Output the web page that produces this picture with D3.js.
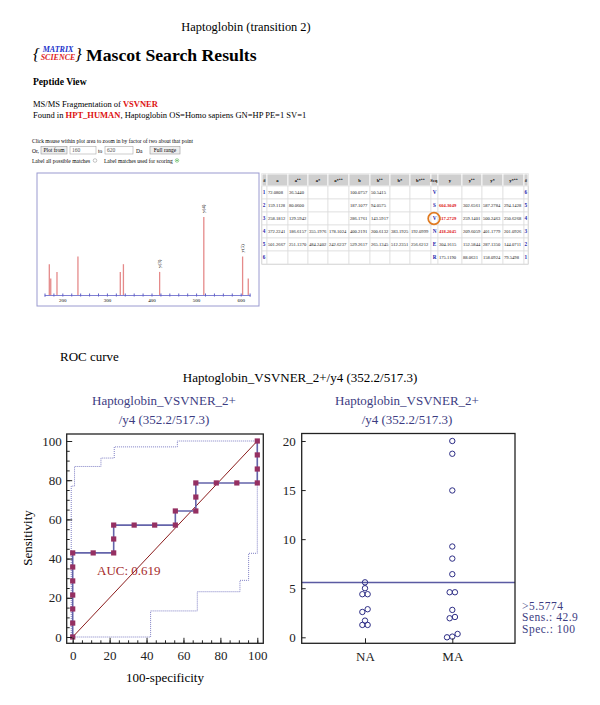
<!DOCTYPE html>
<head>
<meta charset="utf-8">
<title>Haptoglobin (transition 2)</title>
<style>
  body { margin: 0; background: #fff; }
  text { font-family: "Liberation Serif", "Times New Roman", serif; }
</style>
</head>
<body>
<script src="https://d3js.org/d3.v7.min.js"></script>
<script>

// ---- spectrum (m/z, relative intensity) ----
var specMz = [170.8, 174, 188, 235, 330, 337, 418.2, 517.3, 604.3, 617];
var specInt = [28, 15, 21, 35, 21, 28, 21, 71, 35, 15];
var specLabelMz = [418.2, 517.3, 604.3];
var specLabels = ["y(3)", "y(4)", "y(5)"];
var specTicks = [200, 300, 400, 500, 600];

// ---- fragment table ----
var tableHead = ["#", "a", "a⁺⁺", "a*", "a*⁺⁺", "b", "b⁺⁺", "b*", "b*⁺⁺", "Seq.", "y", "y⁺⁺", "y*", "y*⁺⁺", "#"];
var tableRows = [
  ["1", "72.0808", "36.5440", "", "", "100.0757", "50.5415", "", "", "V", "", "", "", "", "6"],
  ["2", "159.1128", "80.0600", "", "", "187.1077", "94.0575", "", "", "S", "604.3049", "302.6561", "587.2784", "294.1428", "5"],
  ["3", "258.1812", "129.5942", "", "", "286.1761", "143.5917", "", "", "V", "517.2729", "259.1401", "500.2463", "250.6268", "4"],
  ["4", "372.2241", "186.6157", "355.1976", "178.1024", "400.2191", "200.6132", "383.1925", "192.0999", "N", "418.2045", "209.6059", "401.1779", "201.0926", "3"],
  ["5", "501.2667", "251.1370", "484.2402", "242.6237", "529.2617", "265.1345", "512.2351", "256.6212", "E", "304.1615", "152.5844", "287.1350", "144.0711", "2"],
  ["6", "", "", "", "", "", "", "", "", "R", "175.1190", "88.0631", "158.0924", "79.5498", "1"]
];
var matchedY = ["604.3049", "517.2729", "418.2045"];
var circledRow = 2;

// ---- ROC curve ----
var rocX = [0, 0, 0, 0, 0, 0, 0, 11.1, 22.2, 22.2, 22.2, 33.3, 44.4, 55.6, 55.6, 66.7, 66.7, 66.7, 77.8, 88.9, 100, 100, 100, 100];
var rocY = [0, 7.1, 14.3, 21.4, 28.6, 35.7, 42.9, 42.9, 42.9, 50, 57.1, 57.1, 57.1, 57.1, 64.3, 64.3, 71.4, 78.6, 78.6, 78.6, 78.6, 85.7, 92.9, 100];
var upperX = [-0.8, -0.8, 1, 1, 15.3, 15.3, 22.5, 22.5, 56.7, 56.7, 100];
var upperY = [0, 77, 77, 87, 87, 91.3, 91.3, 97, 97, 100, 100];
var lowerX = [0, 42.2, 42.2, 67.5, 67.5, 90.6, 90.6, 95.3, 95.3, 100, 100];
var lowerY = [0, 0, 13.3, 13.3, 23.1, 23.1, 28.9, 28.9, 42.7, 42.7, 100];
var auc = "0.619";
var rocTicks = [0, 20, 40, 60, 80, 100];

// ---- dot plot ----
var groups = ["NA", "MA"];
var naValues = [5.6, 5.0, 4.39, 4.39, 2.86, 2.58, 1.7, 1.26, 1.26];
var maValues = [20.0, 18.7, 14.96, 9.25, 8.02, 6.43, 4.59, 4.59, 2.79, 2.07, 1.94, 0.34, 0.07, 0.0];
var cutoff = 5.5774;
var cutoffText = [">5.5774", "Sens.: 42.9", "Spec.: 100"];
var dotTicks = [0, 5, 10, 15, 20];

var titleBlue = "#3c3c82";

var svg = d3.select("body").append("svg")
    .attr("width", 600)
    .attr("height", 705)
    .style("display", "block");

svg.append("rect").attr("width", 600).attr("height", 705).attr("fill", "#fff");

svg.append("text")
    .attr("x", 246).attr("y", 31)
    .attr("text-anchor", "middle")
    .attr("font-size", "12.4px")
    .text("Haptoglobin (transition 2)");

// ===== Mascot header =====
var logo = svg.append("g");
logo.append("text").attr("x", 33).attr("y", 60).attr("font-size", "17px")
    .attr("font-style", "italic").text("{");
logo.append("text").attr("x", 75).attr("y", 60).attr("font-size", "17px")
    .attr("font-style", "italic").text("}");
logo.append("text").attr("x", 58).attr("y", 51.5).attr("text-anchor", "middle")
    .attr("font-size", "8px").attr("font-weight", "bold").attr("font-style", "italic")
    .attr("fill", "#2233cc").text("MATRIX");
logo.append("text").attr("x", 58).attr("y", 59.5).attr("text-anchor", "middle")
    .attr("font-size", "8px").attr("font-weight", "bold").attr("font-style", "italic")
    .attr("fill", "#dd2222").text("SCIENCE");

svg.append("text")
    .attr("x", 86).attr("y", 61)
    .attr("font-size", "17.7px").attr("font-weight", "bold")
    .text("Mascot Search Results");

svg.append("text").attr("x", 33).attr("y", 85)
    .attr("font-size", "9.6px").attr("font-weight", "bold").text("Peptide View");

var l1 = svg.append("text").attr("x", 33).attr("y", 107).attr("font-size", "8.5px");
l1.append("tspan").text("MS/MS Fragmentation of ");
l1.append("tspan").attr("fill", "#dd1111").attr("font-weight", "bold").text("VSVNER");

var l2 = svg.append("text").attr("x", 33).attr("y", 117.5).attr("font-size", "8.5px");
l2.append("tspan").text("Found in ");
l2.append("tspan").attr("fill", "#dd1111").attr("font-weight", "bold").text("HPT_HUMAN");
l2.append("tspan").text(", Haptoglobin OS=Homo sapiens GN=HP PE=1 SV=1");

svg.append("text").attr("x", 32).attr("y", 143).attr("font-size", "5.5px")
    .text("Click mouse within plot area to zoom in by factor of two about that point");

var form = svg.append("g").attr("font-size", "5.5px");
form.append("text").attr("x", 32).attr("y", 152.5).text("Or,");
function button(x, w, label) {
  form.append("rect").attr("x", x).attr("y", 146.5).attr("width", w).attr("height", 7.5)
      .attr("fill", "#eee").attr("stroke", "#999").attr("stroke-width", 0.6);
  form.append("text").attr("x", x + w / 2).attr("y", 152).attr("text-anchor", "middle").text(label);
}
function input(x, w, val) {
  form.append("rect").attr("x", x).attr("y", 146.5).attr("width", w).attr("height", 7.5)
      .attr("fill", "#fff").attr("stroke", "#aaa").attr("stroke-width", 0.6);
  form.append("text").attr("x", x + 2).attr("y", 152).attr("fill", "#555").text(val);
}
button(41, 26, "Plot from");
input(70, 26, "160");
form.append("text").attr("x", 98).attr("y", 152.5).text("to");
input(105, 28, "620");
form.append("text").attr("x", 136).attr("y", 152.5).text("Da");
button(150, 30, "Full range");
form.append("text").attr("x", 32).attr("y", 162.5).text("Label all possible matches");
form.append("circle").attr("cx", 95).attr("cy", 160.5).attr("r", 1.8)
    .attr("fill", "#fff").attr("stroke", "#888").attr("stroke-width", 0.5);
form.append("text").attr("x", 104).attr("y", 162.5).text("Label matches used for scoring");
form.append("circle").attr("cx", 177).attr("cy", 160.5).attr("r", 1.8)
    .attr("fill", "#fff").attr("stroke", "#4a4").attr("stroke-width", 0.5);
form.append("circle").attr("cx", 177).attr("cy", 160.5).attr("r", 0.8).attr("fill", "#4a4");

// ===== spectrum =====
var sx = d3.scaleLinear().domain([160, 620]).range([44.5, 249.6]);
var sy = d3.scaleLinear().domain([0, 100]).range([295, 185]);

svg.append("rect").attr("x", 37).attr("y", 173).attr("width", 222).attr("height", 133)
    .attr("fill", "#fff").attr("stroke", "#9a9ad0").attr("stroke-width", 1);

svg.selectAll(".peak").data(specMz).enter().append("line")
    .attr("class", "peak")
    .attr("x1", function(d) { return sx(d); })
    .attr("x2", function(d) { return sx(d); })
    .attr("y1", sy(0))
    .attr("y2", function(d, i) { return sy(specInt[i]); })
    .attr("stroke", "#e58a8a").attr("stroke-width", 1.3);

var sAxis = svg.append("g").attr("transform", "translate(0," + sy(0) + ")")
    .call(d3.axisBottom(sx).tickValues(d3.range(160, 621, 20)).tickSize(1.5)
        .tickFormat(function(d) { return specTicks.indexOf(d) >= 0 ? d : ""; }));
sAxis.select(".domain").attr("stroke", "#6060c8").attr("stroke-width", 0.8);
sAxis.selectAll(".tick line").attr("stroke", "#6060c8").attr("y1", -1.5);
sAxis.selectAll(".tick text").attr("font-size", "5px").attr("font-family", "Liberation Serif").attr("dy", "0.5em");

svg.selectAll(".plabel").data(specLabelMz).enter().append("text")
    .attr("class", "plabel")
    .attr("transform", function(d) {
      var i = specMz.indexOf(d);
      return "translate(" + (sx(d) + 1.6) + "," + (sy(specInt[i]) - 4) + ") rotate(-90)";
    })
    .attr("font-size", "5px")
    .text(function(d, i) { return specLabels[i]; });

// ===== fragment table =====
var colW = [5, 21, 20, 20, 21, 21, 20, 20, 21, 7, 24, 20, 21, 21, 4];
var colX = [262];
colW.forEach(function(w, i) { colX.push(colX[i] + w); });
var rowH = 13, headH = 12, tTop = 174;
var tbl = svg.append("g").attr("font-size", "4.6px");

tbl.append("rect").attr("x", colX[0]).attr("y", tTop)
    .attr("width", colX[colX.length - 1] - colX[0]).attr("height", headH + rowH * tableRows.length)
    .attr("fill", "#fff").attr("stroke", "#bbb").attr("stroke-width", 1);

tableHead.forEach(function(h, c) {
  tbl.append("rect").attr("x", colX[c]).attr("y", tTop).attr("width", colW[c]).attr("height", headH)
      .attr("fill", "#cfcfcf").attr("stroke", "#fff").attr("stroke-width", 0.8);
  tbl.append("text").attr("x", colX[c] + colW[c] / 2).attr("y", tTop + 7.5)
      .attr("text-anchor", "middle").attr("font-weight", "bold").text(h);
});

tableRows.forEach(function(row, r) {
  var y0 = tTop + headH + r * rowH;
  row.forEach(function(v, c) {
    tbl.append("rect").attr("x", colX[c]).attr("y", y0).attr("width", colW[c]).attr("height", rowH)
        .attr("fill", "#fff").attr("stroke", "#ddd").attr("stroke-width", 0.7);
    var edge = (c === 0 || c === 14 || c === 9);
    var red = matchedY.indexOf(v) >= 0;
    tbl.append("text")
        .attr("x", c === 0 ? colX[c] + 0.8 : (c === 14 ? colX[c] + colW[c] - 0.8 : (edge ? colX[c] + colW[c] / 2 : colX[c] + 1)))
        .attr("y", y0 + 8)
        .attr("text-anchor", c === 14 ? "end" : (c === 9 ? "middle" : "start"))
        .attr("fill", edge ? "#2222aa" : (red ? "#dd1111" : "#222"))
        .attr("font-weight", edge || red ? "bold" : "normal")
        .attr("font-size", edge ? "5.2px" : "4.6px")
        .text(v);
  });
});
tbl.append("circle")
    .attr("cx", colX[9] + colW[9] / 2 - 0.5)
    .attr("cy", tTop + headH + circledRow * rowH + 6.5)
    .attr("r", 5.8)
    .attr("fill", "none").attr("stroke", "#e07a20").attr("stroke-width", 1.8);

// ===== ROC section titles =====
svg.append("text").attr("x", 60).attr("y", 361).attr("font-size", "13px").text("ROC curve");
svg.append("text").attr("x", 300).attr("y", 382).attr("text-anchor", "middle")
    .attr("font-size", "13px").text("Haptoglobin_VSVNER_2+/y4 (352.2/517.3)");

function subTitle(cx) {
  svg.append("text").attr("x", cx).attr("y", 405).attr("text-anchor", "middle")
      .attr("font-size", "13px").attr("fill", titleBlue).text("Haptoglobin_VSVNER_2+");
  svg.append("text").attr("x", cx).attr("y", 424).attr("text-anchor", "middle")
      .attr("font-size", "13px").attr("fill", titleBlue).text("/y4 (352.2/517.3)");
}
subTitle(164);
subTitle(407);

// ===== ROC plot =====
var rx = d3.scaleLinear().domain([0, 100]).range([72.7, 257.3]);
var ry = d3.scaleLinear().domain([0, 100]).range([637, 441]);
var fL = 66.7, fR = 263.3, fT = 434, fB = 643.3;

var roc = svg.append("g");

function stepLine(xs, ys) {
  return d3.line().x(function(d) { return rx(d); }).y(function(d, i) { return ry(ys[i]); })(xs);
}
roc.append("path").attr("d", stepLine(upperX, upperY))
    .attr("fill", "none").attr("stroke", "#7f7fc4").attr("stroke-width", 1).attr("stroke-dasharray", "1,1");
roc.append("path").attr("d", stepLine(lowerX, lowerY))
    .attr("fill", "none").attr("stroke", "#7f7fc4").attr("stroke-width", 1).attr("stroke-dasharray", "1,1");

roc.append("line").attr("x1", rx(0)).attr("y1", ry(0)).attr("x2", rx(100)).attr("y2", ry(100))
    .attr("stroke", "#8b1c1c").attr("stroke-width", 1);

roc.append("path").attr("d", stepLine(rocX, rocY))
    .attr("fill", "none").attr("stroke", "#6464aa").attr("stroke-width", 1.6);

roc.selectAll(".pt").data(rocX).enter().append("rect")
    .attr("class", "pt")
    .attr("x", function(d) { return rx(d) - 2.6; })
    .attr("y", function(d, i) { return ry(rocY[i]) - 2.6; })
    .attr("width", 5.2).attr("height", 5.2)
    .attr("fill", "#953062");

roc.append("text").attr("x", 97).attr("y", 575).attr("font-size", "13px")
    .attr("fill", "#a52a2a").text("AUC: " + auc);

function frame(g, l, r, t, b) {
  g.append("rect").attr("x", l).attr("y", t).attr("width", r - l).attr("height", b - t)
      .attr("fill", "none").attr("stroke", "#222").attr("stroke-width", 1.3);
}
frame(roc, fL, fR, fT, fB);

function styleAxis(a) {
  a.select(".domain").remove();
  a.selectAll(".tick line").attr("stroke", "#222").attr("stroke-width", 1);
  a.selectAll(".tick text").attr("font-size", "13px").attr("fill", "#222")
      .attr("font-family", "Liberation Serif");
}

var ryMinor = roc.append("g").attr("transform", "translate(" + fL + ",0)")
    .call(d3.axisLeft(ry).tickValues(d3.range(0, 101, 5)).tickSizeInner(-3).tickFormat(""));
styleAxis(ryMinor);
var ryMajor = roc.append("g").attr("transform", "translate(" + fL + ",0)")
    .call(d3.axisLeft(ry).tickValues(rocTicks).tickSizeInner(-5.5).tickPadding(5));
styleAxis(ryMajor);

var rxMinor = roc.append("g").attr("transform", "translate(0," + fB + ")")
    .call(d3.axisBottom(rx).tickValues(d3.range(0, 101, 5)).tickSizeInner(-3).tickFormat(""));
styleAxis(rxMinor);
var rxMajor = roc.append("g").attr("transform", "translate(0," + fB + ")")
    .call(d3.axisBottom(rx).tickValues(rocTicks).tickSizeInner(-5.5).tickPadding(7));
styleAxis(rxMajor);

roc.append("text").attr("x", 165).attr("y", 682).attr("text-anchor", "middle")
    .attr("font-size", "13px").text("100-specificity");
roc.append("text").attr("transform", "translate(32,538) rotate(-90)")
    .attr("text-anchor", "middle").attr("font-size", "13px").text("Sensitivity");

// ===== dot plot =====
var dL = 301.7, dR = 515, dT = 433.5, dB = 643.3;
var dx = d3.scalePoint().domain(groups).range([365, 452.3]);
var dy = d3.scaleLinear().domain([0, 20]).range([637.3, 441]);

var dot = svg.append("g");

dot.append("line").attr("x1", dL).attr("x2", dR).attr("y1", dy(cutoff)).attr("y2", dy(cutoff))
    .attr("stroke", "#5a5aa2").attr("stroke-width", 1.4);

// spread near-equal values side by side
function jitter(values) {
  var sorted = values.map(function(v) { return v; }).sort(d3.ascending);
  var out = [], grp = [sorted[0]];
  function flush() {
    grp.forEach(function(v, i) { out.push({ v: v, off: (i - (grp.length - 1) / 2) * 5.3 }); });
  }
  for (var i = 1; i < sorted.length; i++) {
    if (Math.abs(dy(sorted[i]) - dy(sorted[i - 1])) < 3.5) grp.push(sorted[i]);
    else { flush(); grp = [sorted[i]]; }
  }
  flush();
  return out;
}

[naValues, maValues].forEach(function(vals, gi) {
  dot.selectAll(".d" + gi).data(jitter(vals)).enter().append("circle")
      .attr("cx", function(d) { return dx(groups[gi]) + d.off; })
      .attr("cy", function(d) { return dy(d.v); })
      .attr("r", 2.7)
      .attr("fill", "none").attr("stroke", "#2e2e86").attr("stroke-width", 1);
});

frame(dot, dL, dR, dT, dB);

var dyAxis = dot.append("g").attr("transform", "translate(" + dL + ",0)")
    .call(d3.axisLeft(dy).tickValues(dotTicks).tickSizeInner(-4).tickPadding(6));
styleAxis(dyAxis);
var dxAxis = dot.append("g").attr("transform", "translate(0," + dB + ")")
    .call(d3.axisBottom(dx).tickSizeInner(-5).tickPadding(8));
styleAxis(dxAxis);

cutoffText.forEach(function(t, i) {
  dot.append("text").attr("x", 522).attr("y", 610 + i * 11.4)
      .attr("font-size", "11.5px").attr("letter-spacing", "0.5px")
      .attr("fill", titleBlue).text(t);
});

</script>
</body>
